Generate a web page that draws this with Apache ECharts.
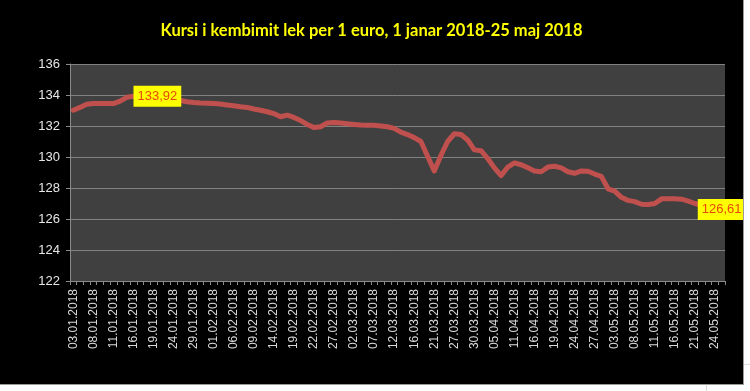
<!DOCTYPE html>
<html>
<head>
<meta charset="utf-8">
<script src="https://cdn.jsdelivr.net/npm/echarts@6/dist/echarts.min.js"></script>
<style>
html,body{margin:0;padding:0;background:#fff;width:750px;height:391px;overflow:hidden;position:relative}
#chart{position:absolute;left:0;top:0;width:743px;height:384px;}
#frame{position:absolute;left:0;top:0;width:743px;height:384px;border-right:1px solid #9a9a9a;border-bottom:1px solid #9a9a9a;pointer-events:none}
.gl{position:absolute;background:#dcdcdc}
</style>
</head>
<body>
<div id="chart"></div>
<div id="frame"></div>
<div class="gl" style="left:706px;top:385px;width:1px;height:6px"></div>
<div class="gl" style="left:744px;top:364px;width:6px;height:1px"></div>
<script>
const titleText = "Kursi i kembimit lek per 1 euro, 1 janar 2018-25 maj 2018";

const categories = [
  "03.01.2018","04.01.2018","05.01.2018","08.01.2018","09.01.2018","10.01.2018","11.01.2018","12.01.2018",
  "15.01.2018","16.01.2018","17.01.2018","18.01.2018","19.01.2018","22.01.2018","23.01.2018","24.01.2018",
  "25.01.2018","26.01.2018","29.01.2018","30.01.2018","31.01.2018","01.02.2018","02.02.2018","05.02.2018",
  "06.02.2018","07.02.2018","08.02.2018","09.02.2018","12.02.2018","13.02.2018","14.02.2018","15.02.2018",
  "16.02.2018","19.02.2018","20.02.2018","21.02.2018","22.02.2018","23.02.2018","26.02.2018","27.02.2018",
  "28.02.2018","01.03.2018","02.03.2018","05.03.2018","06.03.2018","07.03.2018","08.03.2018","09.03.2018",
  "12.03.2018","13.03.2018","15.03.2018","16.03.2018","19.03.2018","20.03.2018","21.03.2018","23.03.2018",
  "26.03.2018","27.03.2018","28.03.2018","29.03.2018","30.03.2018","03.04.2018","04.04.2018","05.04.2018",
  "06.04.2018","10.04.2018","11.04.2018","12.04.2018","13.04.2018","16.04.2018","17.04.2018","18.04.2018",
  "19.04.2018","20.04.2018","23.04.2018","24.04.2018","25.04.2018","26.04.2018","27.04.2018","30.04.2018",
  "02.05.2018","03.05.2018","04.05.2018","07.05.2018","08.05.2018","09.05.2018","10.05.2018","11.05.2018",
  "14.05.2018","15.05.2018","16.05.2018","17.05.2018","18.05.2018","21.05.2018","22.05.2018","23.05.2018",
  "24.05.2018","25.05.2018"
];

const rates = [
  133.02,133.20,133.40,133.45,133.45,133.45,133.45,133.60,
  133.85,133.92,133.85,133.78,133.72,133.70,133.68,133.66,
  133.64,133.57,133.52,133.49,133.47,133.45,133.42,133.36,
  133.30,133.24,133.20,133.10,133.02,132.92,132.80,132.60,
  132.70,132.55,132.35,132.10,131.90,131.95,132.20,132.22,
  132.20,132.14,132.10,132.06,132.05,132.05,132.00,131.95,
  131.85,131.60,131.45,131.25,131.00,130.05,129.10,130.10,
  131.00,131.50,131.45,131.10,130.46,130.41,129.90,129.30,
  128.80,129.35,129.62,129.50,129.30,129.10,129.05,129.35,
  129.40,129.30,129.05,128.95,129.10,129.08,128.90,128.75,
  127.95,127.80,127.40,127.20,127.12,126.95,126.93,127.00,
  127.30,127.30,127.30,127.28,127.15,127.00,126.90,126.80,
  126.70,126.61
];

const yMin = 122, yMax = 136, yStep = 2;
const labelledIndices = [9, 97]; // max point (16.01) and last point (25.05)

const fmt = v => v.toFixed(2).replace('.', ',');

const labelBase = {
  show: true,
  formatter: p => fmt(p.value),
  color: '#E8480C',
  backgroundColor: '#FFFF00',
  fontSize: 13,
  fontFamily: 'Liberation Sans',
  padding: [4, 4, 4, 4],
  lineHeight: 13
};

const seriesData = rates.map((v, i) => {
  if (i === labelledIndices[0]) {
    return { value: v, label: Object.assign({}, labelBase, { position: 'right', distance: 0 }) };
  }
  if (i === labelledIndices[1]) {
    return { value: v, label: Object.assign({}, labelBase, { position: 'inside' }) };
  }
  return v;
});

const chart = echarts.init(document.getElementById('chart'), null, { renderer: 'canvas' });
chart.setOption({
  backgroundColor: '#000000',
  animation: false,
  title: {
    text: titleText,
    left: 'center',
    top: 17,
    textStyle: { color: '#FFFF00', fontSize: 16.5, fontWeight: 'bold', fontFamily: 'Lato' }
  },
  grid: {
    left: 70, right: 18, top: 64, bottom: 103,
    show: true, backgroundColor: '#404040', borderWidth: 0
  },
  xAxis: {
    type: 'category',
    data: categories,
    boundaryGap: true,
    axisLine: { show: true, lineStyle: { color: '#8a8a8a', width: 1 } },
    axisTick: { show: true, interval: 0, length: 4, lineStyle: { color: '#8a8a8a' } },
    axisLabel: {
      interval: 2, rotate: 90, margin: 8,
      color: '#d9d9d9', fontSize: 12, fontFamily: 'Liberation Sans'
    },
    splitLine: { show: false }
  },
  yAxis: {
    type: 'value',
    min: yMin, max: yMax, interval: yStep,
    axisLine: { show: true, lineStyle: { color: '#8a8a8a', width: 1 } },
    axisTick: { show: true, length: 4, lineStyle: { color: '#8a8a8a' } },
    axisLabel: { color: '#e6e6e6', fontSize: 13, fontFamily: 'Liberation Sans', margin: 10 },
    splitLine: { show: true, lineStyle: { color: '#828282', width: 1 } }
  },
  series: [{
    type: 'line',
    data: seriesData,
    symbol: 'circle',
    symbolSize: 0,
    showSymbol: true,
    smooth: false,
    lineStyle: { color: '#C0504D', width: 5, join: 'round', cap: 'round' },
    itemStyle: { color: '#C0504D' },
    label: { show: false },
    labelLayout: { hideOverlap: false },
    z: 3
  }]
});
</script>
</body>
</html>
